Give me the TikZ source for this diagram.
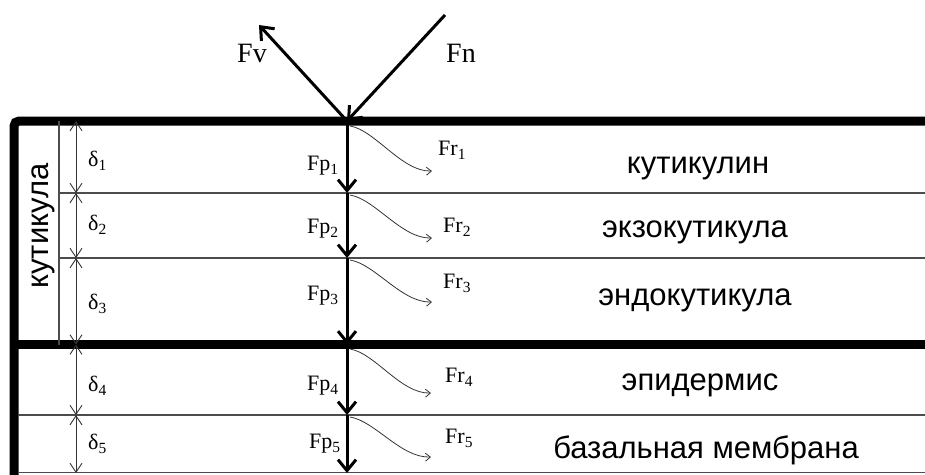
\documentclass[tikz,border=0pt]{standalone}
\usepackage{fontspec}
\setmainfont{Liberation Serif}
\newfontfamily\arialf{Liberation Sans}
\usetikzlibrary{arrows.meta}
\newcommand{\lowidx}[1]{\raisebox{-0.22em}{\fontsize{15.5}{16}\selectfont #1}}
\begin{document}
\begin{tikzpicture}[x=1pt,y=-1pt,
  thinline/.style={line width=1.6pt, black!70},
  mainarr/.style={line width=3pt, -{Straight Barb[length=11pt,width=18pt,line width=3pt]}},
  forcearr/.style={line width=3pt, -{Straight Barb[length=11pt,width=18pt,line width=3pt]}},
  dimarr/.style={line width=0.9pt, black!80, {Straight Barb[length=9pt,width=12pt,line width=0.9pt]}-{Straight Barb[length=9pt,width=12pt,line width=0.9pt]}},
  wave/.style={line width=0.8pt, black!80, -{Straight Barb[length=5pt,width=8pt,line width=0.8pt]}},
  biglbl/.style={font=\fontsize{28}{30}\selectfont, anchor=base west, inner sep=0pt},
  smalllbl/.style={font=\fontsize{22}{24}\selectfont, anchor=base west, inner sep=0pt},
  layerlbl/.style={font=\arialf\fontsize{31}{33}\selectfont, anchor=base, inner sep=0pt}
]
\useasboundingbox (0,0) rectangle (925,474);
% frame
\draw[line width=9pt, rounded corners=5pt] (14,480) -- (14,121) -- (930,121);
\draw[line width=9pt] (14,344.5) -- (930,344.5);
\draw[thinline] (59,193) -- (930,193);
\draw[thinline] (59,258) -- (930,258);
\draw[thinline] (18,415) -- (930,415);
\draw[thinline] (18,472.5) -- (930,472.5);
\draw[thinline] (59,121) -- (59,344.5);
% axis points
\coordinate (p0) at (347,121);
\coordinate (p1) at (347,193);
\coordinate (p2) at (347,258);
\coordinate (p3) at (347,344.5);
\coordinate (p4) at (347,415);
\coordinate (p5) at (347,473);
\draw[mainarr] (p0) -- (p1);
\draw[mainarr] (p1) -- (p2);
\draw[mainarr] (p2) -- (p3);
\draw[mainarr] (p3) -- (p4);
\draw[mainarr] (p4) -- (p5);
% incident and reflected forces
\coordinate (fnstart) at (445,15);
\coordinate (fvend) at (259,25);
\draw[forcearr] (fnstart) -- (p0);
\draw[forcearr] (p0) -- (fvend);
\node[biglbl] (lblfv) at (237,62) {Fv};
\node[biglbl] (lblfn) at (446,62) {Fn};
% dimension arrows
\coordinate (d0) at (76,121);
\coordinate (d1) at (76,193);
\coordinate (d2) at (76,258);
\coordinate (d3) at (76,344.5);
\coordinate (d4) at (76,415);
\coordinate (d5) at (76,473);
\draw[dimarr] (d0) -- (d1);
\draw[dimarr] (d1) -- (d2);
\draw[dimarr] (d2) -- (d3);
\draw[dimarr] (d3) -- (d4);
\draw[dimarr] (d4) -- (d5);
\node[smalllbl] (dl1) at (88,166) {δ\lowidx{1}};
\node[smalllbl] (dl2) at (88,230) {δ\lowidx{2}};
\node[smalllbl] (dl3) at (88,309) {δ\lowidx{3}};
\node[smalllbl] (dl4) at (88,391) {δ\lowidx{4}};
\node[smalllbl] (dl5) at (88,449) {δ\lowidx{5}};
% refracted waves
\coordinate (w1) at (350,126);
\coordinate (w2) at (350,195);
\coordinate (w3) at (350,260);
\coordinate (w4) at (350,349);
\coordinate (w5) at (350,417);
\coordinate (r1) at (432,171);
\coordinate (r2) at (432,238);
\coordinate (r3) at (432,302);
\coordinate (r4) at (431,393);
\coordinate (r5) at (431,457);
\draw[wave] (w1) .. controls +(25,4) and +(-30,1) .. (r1);
\draw[wave] (w2) .. controls +(25,4) and +(-30,1) .. (r2);
\draw[wave] (w3) .. controls +(25,4) and +(-30,1) .. (r3);
\draw[wave] (w4) .. controls +(25,4) and +(-30,1) .. (r4);
\draw[wave] (w5) .. controls +(25,4) and +(-30,1) .. (r5);
% labels Fp, Fr
\node[smalllbl] (fp1) at (307,170) {Fp\lowidx{1}};
\node[smalllbl] (fp2) at (307,233) {Fp\lowidx{2}};
\node[smalllbl] (fp3) at (307,300) {Fp\lowidx{3}};
\node[smalllbl] (fp4) at (307,390) {Fp\lowidx{4}};
\node[smalllbl] (fp5) at (309,448) {Fp\lowidx{5}};
\node[smalllbl] (fr1) at (438,155) {Fr\lowidx{1}};
\node[smalllbl] (fr2) at (443,232) {Fr\lowidx{2}};
\node[smalllbl] (fr3) at (443,288) {Fr\lowidx{3}};
\node[smalllbl] (fr4) at (445,382) {Fr\lowidx{4}};
\node[smalllbl] (fr5) at (445,443) {Fr\lowidx{5}};
% layer names
\node[layerlbl] (l1) at (698,173) {кутикулин};
\node[layerlbl] (l2) at (695,237) {экзокутикула};
\node[layerlbl] (l3) at (695,305) {эндокутикула};
\node[layerlbl] (l4) at (700,390) {эпидермис};
\node[layerlbl] (l5) at (706,458) {базальная мембрана};
\node[font=\arialf\fontsize{31}{33}\selectfont, rotate=90, anchor=mid, inner sep=0pt] (kut) at (46,226) {кутикула};
\end{tikzpicture}
\end{document}
